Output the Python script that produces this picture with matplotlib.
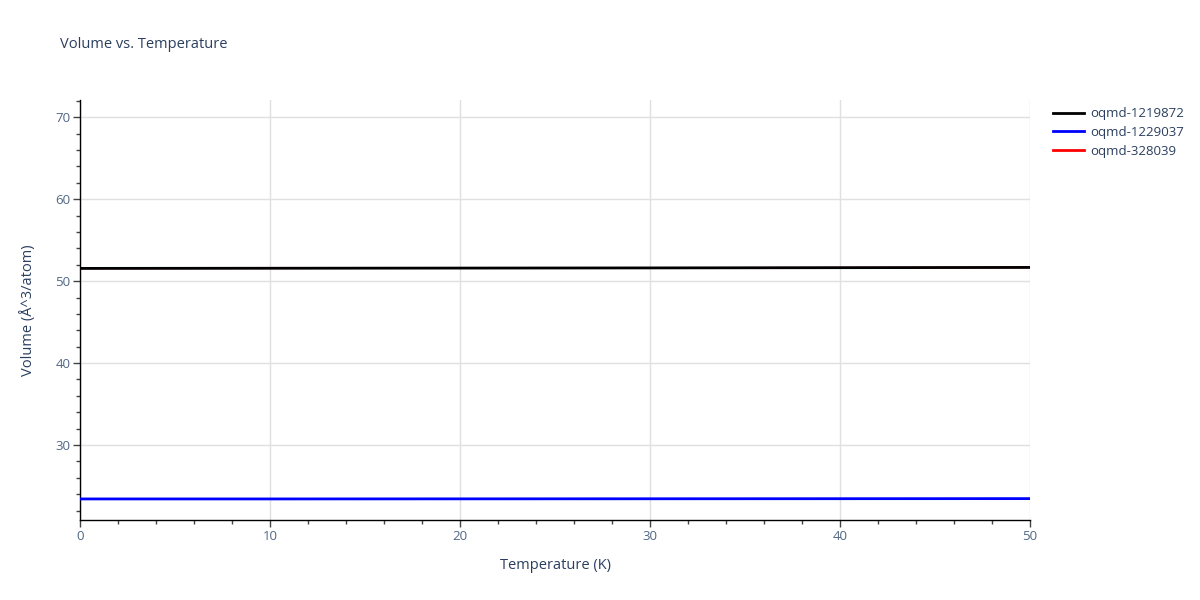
import numpy as np
import matplotlib
matplotlib.use("Agg")
import matplotlib.pyplot as plt
from matplotlib.ticker import MultipleLocator

plt.rcParams['font.family'] = ['Open Sans', 'DejaVu Sans']

# temperature grid (K) and volumes (A^3/atom)
temps = [0, 10, 20, 30, 40, 50]
vol_1219872 = [51.55, 51.57, 51.59, 51.61, 51.64, 51.67]
vol_1229037 = [23.42, 23.42, 23.43, 23.44, 23.45, 23.46]
vol_328039 = [51.55, 51.57, 51.59, 51.61, 51.64, 51.67]  # hidden under the black trace

names = ['oqmd-1219872', 'oqmd-1229037', 'oqmd-328039']
colors = ['black', 'blue', 'red']

txt = '#2a3f5f'
tick_txt = '#506784'

fig = plt.figure(figsize=(12, 6), dpi=100)
ax = fig.add_axes([80/1200, 80/600, 950/1200, 420/600])

ax.plot(temps, vol_328039, color=colors[2], lw=1.2, label=names[2], zorder=2)
ax.plot(temps, vol_1229037, color=colors[1], lw=2, label=names[1], zorder=3)
ax.plot(temps, vol_1219872, color=colors[0], lw=2, label=names[0], zorder=4)

ax.set_xlim(0, 50)
ax.set_ylim(20.85, 72.1)
ax.xaxis.set_major_locator(MultipleLocator(10))
ax.xaxis.set_minor_locator(MultipleLocator(2))
ax.yaxis.set_major_locator(MultipleLocator(10))
ax.yaxis.set_minor_locator(MultipleLocator(2))
ax.set_yticks([30, 40, 50, 60, 70])

ax.grid(True, which='major', color='#e0e0e0', lw=1)
ax.set_axisbelow(True)
for s in ['top', 'right']:
    ax.spines[s].set_visible(False)
for s in ['left', 'bottom']:
    ax.spines[s].set_color('black')
    ax.spines[s].set_linewidth(1)

ax.tick_params(which='major', direction='out', length=5, width=1, colors='#444444',
               labelcolor=tick_txt, labelsize=9.5, pad=2)
ax.tick_params(which='minor', direction='out', length=3, width=1, colors='#444444')

ax.set_xlabel('Temperature (K)', color=txt, fontsize=10.5, labelpad=11)
ax.set_ylabel('Volume (Å^3/atom)', color=txt, fontsize=10.5, labelpad=14)

fig.text(60/1200, 1 - 45/600, 'Volume vs. Temperature', color=txt, fontsize=10.5,
         va='center', ha='left')

handles, labels = ax.get_legend_handles_labels()
order = [2, 1, 0]
leg = ax.legend([handles[i] for i in order], [labels[i] for i in order],
                loc='upper left', bbox_to_anchor=(1.015, 1.005), frameon=False,
                fontsize=9.5, handlelength=2.3, handletextpad=0.5, labelspacing=0.45,
                borderaxespad=0.3)
for h, c in zip(leg.get_lines(), ['black', 'blue', 'red']):
    h.set_linewidth(2)
for t in leg.get_texts():
    t.set_color(txt)

fig.savefig('out.png', dpi=100)
